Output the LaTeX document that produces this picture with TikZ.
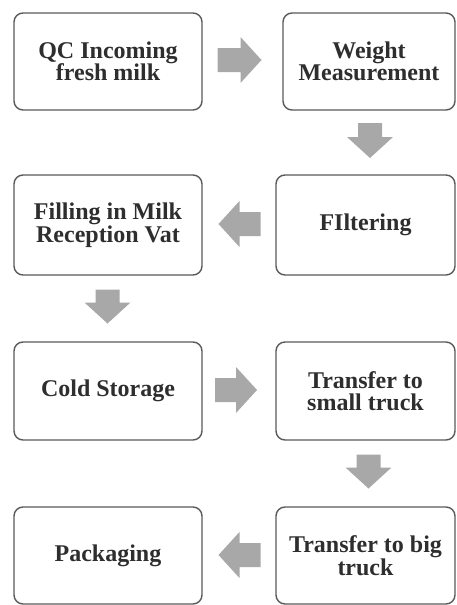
\documentclass[tikz,border=0pt]{standalone}
\usepackage{fontspec}
\setmainfont{Liberation Serif}
\definecolor{boxline}{HTML}{5A5A5A}
\definecolor{arrowgray}{HTML}{A8A8A8}
\definecolor{txt}{HTML}{2E2E2E}
\begin{document}
\begin{tikzpicture}[x=1pt,y=-1pt,
  stepbox/.style={draw=boxline, line width=1.4pt, rounded corners=9pt, fill=white,
    align=center, inner sep=0pt, text=txt,
    font=\bfseries\fontsize{24}{22.5}\selectfont},
  blockarrow/.pic={\fill[arrowgray] (-#1,-12) -- (#1-21,-12) -- (#1-21,-23) -- (#1,0)
      -- (#1-21,23) -- (#1-21,12) -- (-#1,12) -- cycle;}
]
\useasboundingbox (0,0) rectangle (457,605);
\node[stepbox, minimum width=188pt, minimum height=97pt] (b1) at (108,61.5) {QC Incoming\\fresh milk};
\node[stepbox, minimum width=172pt, minimum height=97pt] (b2) at (369,61.5) {Weight\\Measurement};
\node[stepbox, minimum width=179pt, minimum height=100pt] (b3) at (365.5,225) {FIltering};
\node[stepbox, minimum width=188pt, minimum height=100pt] (b4) at (108,225) {Filling in Milk\\Reception Vat};
\node[stepbox, minimum width=188pt, minimum height=98pt] (b5) at (108,391) {Cold Storage};
\node[stepbox, minimum width=179pt, minimum height=98pt] (b6) at (365.5,391) {Transfer to\\small truck};
\node[stepbox, minimum width=179pt, minimum height=97pt] (b7) at (365.5,555.5) {Transfer to big\\truck};
\node[stepbox, minimum width=188pt, minimum height=97pt] (b8) at (108,555.5) {Packaging};
\pic at (239.5,60) {blockarrow=22};
\pic[rotate=-90] at (370,140.5) {blockarrow=17.5};
\pic[rotate=180] at (239.5,224) {blockarrow=21};
\pic[rotate=-90] at (107.5,306.5) {blockarrow=17};
\pic at (236,390) {blockarrow=21};
\pic[rotate=-90] at (368.5,471.5) {blockarrow=17};
\pic[rotate=180] at (239.5,555) {blockarrow=21};
\end{tikzpicture}
\end{document}
